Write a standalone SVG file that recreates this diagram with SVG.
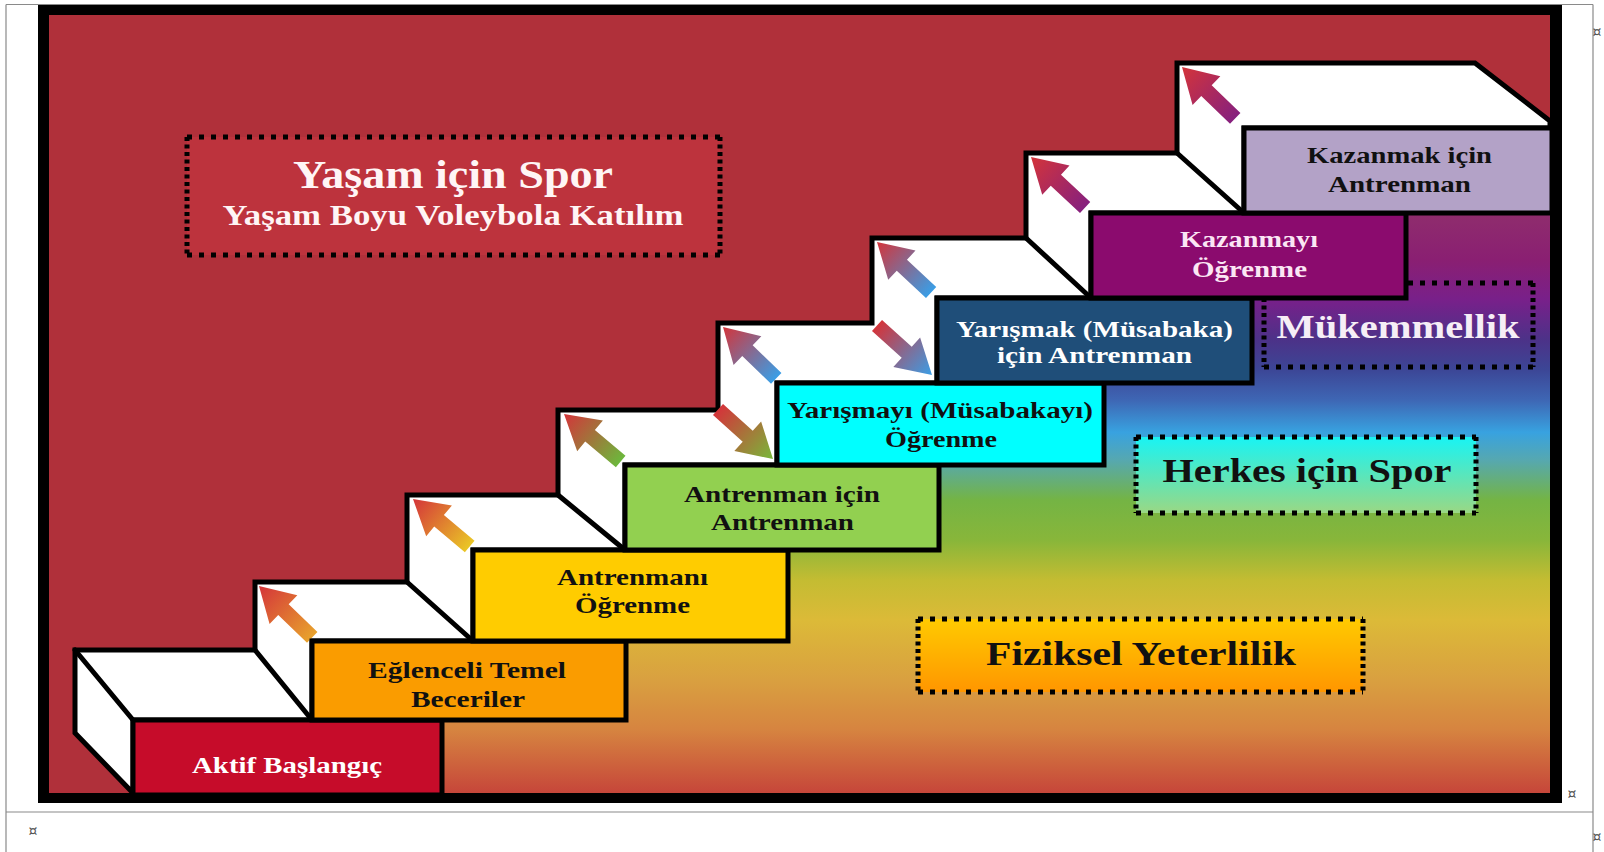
<svg xmlns="http://www.w3.org/2000/svg" width="1604" height="852" viewBox="0 0 1604 852">
<style>
.t{font-family:"Liberation Serif","DejaVu Serif",serif;font-weight:bold}
.dk{fill:#111}
.wt{fill:#fff}
.box{stroke:#000;stroke-width:5}
.dot{fill:none;stroke:#000;stroke-width:5}
.dh{stroke-dasharray:5 7}
.dv{stroke-dasharray:4 3.5}
.edge{fill:none;stroke:#000;stroke-width:5;stroke-linecap:round}
.tbl{stroke:#8a8a8a;stroke-width:1.2;fill:none}
.cur{font-family:"DejaVu Sans",sans-serif;font-size:14px;fill:#555;text-anchor:middle}
</style>
<defs>
<linearGradient id="bg" gradientUnits="userSpaceOnUse" x1="0" y1="213" x2="0" y2="793">
<stop offset="0" stop-color="#8f2d6d"/>
<stop offset="0.081" stop-color="#8a1f72"/>
<stop offset="0.15" stop-color="#78208a"/>
<stop offset="0.219" stop-color="#4c3288"/>
<stop offset="0.27" stop-color="#3c4696"/>
<stop offset="0.322" stop-color="#3e66b4"/>
<stop offset="0.378" stop-color="#38a2e0"/>
<stop offset="0.426" stop-color="#56a8b0"/>
<stop offset="0.495" stop-color="#74b444"/>
<stop offset="0.564" stop-color="#88b63a"/>
<stop offset="0.633" stop-color="#c4bc32"/>
<stop offset="0.702" stop-color="#dcba38"/>
<stop offset="0.805" stop-color="#d9a040"/>
<stop offset="0.891" stop-color="#d68440"/>
<stop offset="1" stop-color="#c6463a"/>
</linearGradient>
<linearGradient id="gHerkes" x1="0" y1="0" x2="0" y2="1">
<stop offset="0" stop-color="#18f4f4"/>
<stop offset="1" stop-color="#9ad884"/>
</linearGradient>
<linearGradient id="gFiz" x1="0" y1="0" x2="0" y2="1">
<stop offset="0" stop-color="#ffca00"/>
<stop offset="1" stop-color="#ff9600"/>
</linearGradient>
<linearGradient id="gOr"><stop offset="0" stop-color="#e8a22c"/><stop offset="1" stop-color="#d4343a"/></linearGradient>
<linearGradient id="gYe"><stop offset="0" stop-color="#eac626"/><stop offset="1" stop-color="#d4343a"/></linearGradient>
<linearGradient id="gGr"><stop offset="0" stop-color="#6cb83c"/><stop offset="1" stop-color="#d4343a"/></linearGradient>
<linearGradient id="gBl"><stop offset="0" stop-color="#3a9ee6"/><stop offset="1" stop-color="#d4343a"/></linearGradient>
<linearGradient id="gPu"><stop offset="0" stop-color="#86207e"/><stop offset="1" stop-color="#d4343a"/></linearGradient>
<linearGradient id="gDnGr"><stop offset="0" stop-color="#d4343a"/><stop offset="1" stop-color="#78b83a"/></linearGradient>
<linearGradient id="gDnBl"><stop offset="0" stop-color="#d4343a"/><stop offset="1" stop-color="#3a9ee6"/></linearGradient>
<path id="arr" d="M0,0 L-34,-20 L-34,-7.5 L-74,-7.5 L-74,7.5 L-34,7.5 L-34,20 Z"/>
</defs>

<rect x="0" y="0" width="1604" height="852" fill="#fff"/>
<g id="table">
<path class="tbl" d="M6,4.5 H1593 M6,4.5 V852 M1593,4.5 V852 M6,812 H1593"/>
<text class="cur" x="1572" y="799">¤</text>
<text class="cur" x="33" y="836">¤</text>
<text class="cur" x="1597" y="37">¤</text>
<text class="cur" x="1597" y="842">¤</text>
</g>

<g id="frame">
<rect x="38" y="5" width="1524" height="798" fill="#000"/>
<rect x="49" y="15" width="1501" height="778" fill="#b0303a"/>
<polygon fill="url(#bg)" points="420,793 420,715 600,715 600,636 770,636 770,545 920,545 920,460 1090,460 1090,378 1240,378 1240,293 1395,293 1395,208 1550,208 1550,793"/>
</g>

<g id="yasam">
<rect x="187" y="137" width="533" height="118" fill="#bd333d"/>
<path class="dot dh" d="M187,137 H720 M187,255 H720"/>
<path class="dot dv" d="M187,137 V255 M720,137 V255"/>
<text class="t" x="293" y="188" font-size="40" fill="#fff5f5" textLength="320" lengthAdjust="spacingAndGlyphs">Yaşam için Spor</text>
<text class="t" x="222.5" y="225" font-size="30" fill="#fff5f5" textLength="461" lengthAdjust="spacingAndGlyphs">Yaşam Boyu Voleybola Katılım</text>
</g>

<g id="staircase">
<polygon fill="#fff" stroke="#000" stroke-width="5" stroke-linejoin="miter" points="75,733 75,650 255,650 255,582 407,582 407,495 558,495 558,410 718,410 718,323 872,323 872,238 1026,238 1026,153 1177,153 1177,63 1475,63 1550,121 1550,128 1244,128 1244,213 1091,213 1091,298 937,298 937,383 777,383 777,465 625,465 625,550 473,550 473,641 312,641 312,720 133,720 133,793"/>
<path class="edge" d="M75,650 L133,720 M255,650 L312,720 M407,582 L473,641 M558,495 L625,550 M1026,238 L1091,298 M1177,153 L1244,213"/>
</g>

<g id="arrows">
<use href="#arr" fill="url(#gOr)" transform="translate(259,586) rotate(-136)"/>
<use href="#arr" fill="url(#gYe)" transform="translate(413,499) rotate(-140)"/>
<use href="#arr" fill="url(#gGr)" transform="translate(564,414) rotate(-140)"/>
<use href="#arr" fill="url(#gBl)" transform="translate(723,327) rotate(-136)"/>
<use href="#arr" fill="url(#gBl)" transform="translate(877,242) rotate(-137)"/>
<use href="#arr" fill="url(#gPu)" transform="translate(1031,157) rotate(-137)"/>
<use href="#arr" fill="url(#gPu)" transform="translate(1182,67) rotate(-136)"/>
<use href="#arr" fill="url(#gDnGr)" transform="translate(773,459) rotate(42)"/>
<use href="#arr" fill="url(#gDnBl)" transform="translate(932,375) rotate(42)"/>
</g>

<g id="mukemmellik">
<path class="dot dh" d="M1264,283 H1533 M1264,367 H1533"/>
<path class="dot dv" d="M1264,283 V367 M1533,283 V367"/>
<text class="t" x="1276.5" y="338" font-size="34" fill="#f6eef6" textLength="243" lengthAdjust="spacingAndGlyphs">Mükemmellik</text>
</g>

<g id="herkes">
<rect x="1136" y="437" width="340" height="76" fill="url(#gHerkes)"/>
<path class="dot dh" d="M1136,437 H1476 M1136,513 H1476"/>
<path class="dot dv" d="M1136,437 V513 M1476,437 V513"/>
<text class="t dk" x="1162.5" y="482" font-size="34" textLength="289" lengthAdjust="spacingAndGlyphs">Herkes için Spor</text>
</g>

<g id="fiziksel">
<rect x="918" y="619" width="445" height="73" fill="url(#gFiz)"/>
<path class="dot dh" d="M918,619 H1363 M918,692 H1363"/>
<path class="dot dv" d="M918,619 V692 M1363,619 V692"/>
<text class="t dk" x="986" y="665" font-size="34" textLength="310" lengthAdjust="spacingAndGlyphs">Fiziksel Yeterlilik</text>
</g>

<g id="step1">
<rect class="box" x="133" y="720" width="309" height="75" fill="#c60c2a"/>
<text class="t wt" x="192" y="773" font-size="24" textLength="190" lengthAdjust="spacingAndGlyphs">Aktif Başlangıç</text>
</g>
<g id="step2">
<rect class="box" x="312" y="641" width="314" height="79" fill="#fa9c00"/>
<text class="t dk" x="368" y="678" font-size="24" textLength="198" lengthAdjust="spacingAndGlyphs">Eğlenceli Temel</text>
<text class="t dk" x="411" y="707" font-size="24" textLength="114" lengthAdjust="spacingAndGlyphs">Beceriler</text>
</g>
<g id="step3">
<rect class="box" x="473" y="550" width="315" height="91" fill="#ffcc00"/>
<text class="t dk" x="557" y="585" font-size="24" textLength="151" lengthAdjust="spacingAndGlyphs">Antrenmanı</text>
<text class="t dk" x="575" y="613" font-size="24" textLength="115" lengthAdjust="spacingAndGlyphs">Öğrenme</text>
</g>
<g id="step4">
<rect class="box" x="625" y="465" width="314" height="85" fill="#92d050"/>
<text class="t dk" x="684" y="502" font-size="24" textLength="196" lengthAdjust="spacingAndGlyphs">Antrenman için</text>
<text class="t dk" x="711" y="530" font-size="24" textLength="143" lengthAdjust="spacingAndGlyphs">Antrenman</text>
</g>
<g id="step5">
<rect class="box" x="777" y="383" width="327" height="82" fill="#00ffff"/>
<text class="t dk" x="787" y="418" font-size="24" textLength="306" lengthAdjust="spacingAndGlyphs">Yarışmayı (Müsabakayı)</text>
<text class="t dk" x="885" y="447" font-size="24" textLength="112" lengthAdjust="spacingAndGlyphs">Öğrenme</text>
</g>
<g id="step6">
<rect class="box" x="937" y="298" width="315" height="85" fill="#1f4e79"/>
<text class="t wt" x="956" y="337" font-size="24" textLength="277" lengthAdjust="spacingAndGlyphs">Yarışmak (Müsabaka)</text>
<text class="t wt" x="997" y="363" font-size="24" textLength="195" lengthAdjust="spacingAndGlyphs">için Antrenman</text>
</g>
<g id="step7">
<rect class="box" x="1091" y="213" width="315" height="85" fill="#8b0b6e"/>
<text class="t" x="1180" y="247" font-size="24" fill="#fbe6f4" textLength="138" lengthAdjust="spacingAndGlyphs">Kazanmayı</text>
<text class="t" x="1192" y="277" font-size="24" fill="#fbe6f4" textLength="115" lengthAdjust="spacingAndGlyphs">Öğrenme</text>
</g>
<g id="step8">
<rect class="box" x="1244" y="128" width="308" height="85" fill="#b3a2c7"/>
<text class="t dk" x="1307" y="163" font-size="24" textLength="185" lengthAdjust="spacingAndGlyphs">Kazanmak için</text>
<text class="t dk" x="1328" y="192" font-size="24" textLength="143" lengthAdjust="spacingAndGlyphs">Antrenman</text>
</g>
<rect x="1550" y="15" width="12" height="788" fill="#000"/>
<rect x="38" y="793" width="1524" height="10" fill="#000"/>
</svg>
